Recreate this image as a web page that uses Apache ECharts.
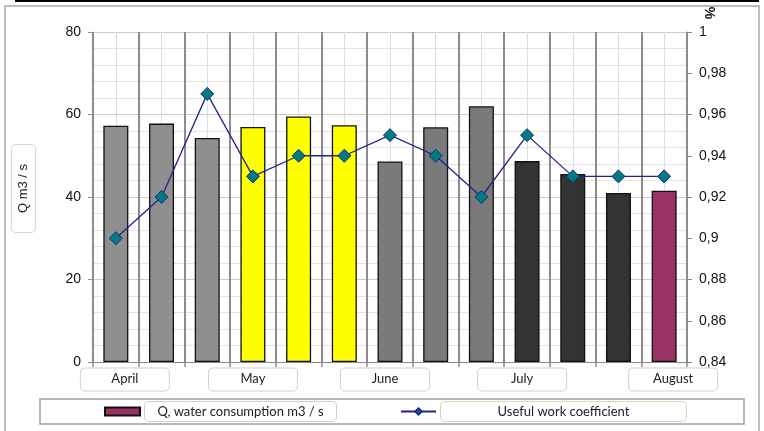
<!DOCTYPE html>
<html>
<head>
<meta charset="utf-8">
<script src="https://cdn.jsdelivr.net/npm/echarts@6/dist/echarts.min.js"></script>
<style>
html,body{margin:0;padding:0;background:#fff;}
#chart{width:764px;height:431px;}
</style>
</head>
<body>
<div id="chart"></div>
<script>
// ---- data ----
var categories = ['Apr-1','Apr-2','Apr-3','May-1','May-2','May-3','Jun-1','Jun-2','Jun-3','Jul-1','Jul-2','Jul-3','Aug-1'];
var monthLabels = ['April','','','May','','','June','','','July','','','August'];
var waterConsumption = [57.3, 57.8, 54.3, 57.0, 59.5, 57.4, 48.6, 56.9, 62.0, 48.7, 45.6, 41.0, 41.5];
var workCoefficient = [0.90, 0.92, 0.97, 0.93, 0.94, 0.94, 0.95, 0.94, 0.92, 0.95, 0.93, 0.93, 0.93];
var seriesNames = ['Q, water consumption m3 / s', 'Useful work coefficient'];
var leftAxisName = 'Q m3 / s';
var rightAxisName = '%';

// ---- styles ----
var barColors = ['#8f8f8f','#8f8f8f','#8f8f8f','#ffff00','#ffff00','#ffff00','#7a7a7a','#7a7a7a','#7a7a7a','#333333','#333333','#333333','#993366'];
var labelShift = [9,0,0,0,0,0,-5,0,0,-9,0,0,5];
var numFont = 'Liberation Sans';

var chart = echarts.init(document.getElementById('chart'));
var option = {
  animation: false,
  backgroundColor: '#ffffff',
  graphic: [
    {type:'rect', shape:{x:5,y:6,width:754,height:440}, style:{fill:'none', stroke:'#a6a6a6', lineWidth:1.5}, z:0},
    {type:'line', shape:{x1:15,y1:1,x2:759,y2:1}, style:{stroke:'#000', lineWidth:2}, z:1},
    {type:'text', x:709, y:13, rotation:-Math.PI/2, style:{text:rightAxisName, font:'bold 14px "Liberation Sans", Arial', fill:'#111', align:'center', verticalAlign:'middle'}}
  ],
  grid: {left:93, right:77, top:32, bottom:69, containLabel:false},
  legend: {
    left: 40, top: 399,
    padding: [2, 57, 2, 64],
    itemGap: 63,
    itemWidth: 35, itemHeight: 8,
    borderColor: '#a0a0a0', borderWidth: 1.5,
    data: [{name: seriesNames[0], icon: 'rect'}, {name: seriesNames[1]}],
    formatter: function(n){ return (n === seriesNames[0] ? '{a|' : '{b|') + n + '}'; },
    textStyle: {
      fontFamily: 'Lato', fontSize: 13, color: '#222',
      rich: {
        a: {fontFamily:'Lato', fontSize:13, color:'#222', width:183, align:'center', padding:[3,4], lineHeight:15,
            backgroundColor:'#fff', borderColor:'#cfcfcf', borderWidth:1, borderRadius:4},
        b: {fontFamily:'Lato', fontSize:13, color:'#222', width:237, align:'center', padding:[3,4], lineHeight:15,
            backgroundColor:'#fff', borderColor:'#c6e0b4', borderWidth:1, borderRadius:4}
      }
    }
  },
  xAxis: [
    {
      type: 'category', data: categories, boundaryGap: true,
      axisLine: {lineStyle:{color:'#8a8a8a', width:1}},
      axisTick: {show:true, length:5, lineStyle:{color:'#8a8a8a', width:1.5}},
      splitLine: {show:true, lineStyle:{color:'#8c8c8c', width:2}},
      axisLabel: {
        interval: 0, margin: 10,
        formatter: function(v, i){
          var t = monthLabels[i];
          if (!t) return '';
          var s = labelShift[i];
          if (s > 0) return '{s| }{m|' + t + '}';
          if (s < 0) return '{m|' + t + '}{t| }';
          return '{m|' + t + '}';
        },
        rich: {
          m: {fontFamily:'Lato', fontSize:13, color:'#222', width:80, align:'center', padding:[4,4,5,4], lineHeight:15,
              backgroundColor:'#fff', borderColor:'#d0d0d0', borderWidth:1, borderRadius:4},
          s: {width:18},
          t: {width:10}
        }
      },
      z: 2
    },
    {
      type: 'value', min: 0, max: 13, interval: 1, position: 'bottom',
      axisLine:{show:false}, axisTick:{show:false}, axisLabel:{show:false},
      splitLine:{show:false},
      minorTick:{show:false, splitNumber:2},
      minorSplitLine:{show:true, lineStyle:{color:'#cfe1f6', width:1}}
    }
  ],
  yAxis: [
    {
      type: 'value', min: 0, max: 80, interval: 20, position: 'left',
      name: '{s| }{n|' + leftAxisName + '}',
      nameLocation: 'middle', nameGap: 63, nameRotate: 90,
      nameTextStyle: {
        rich: {
          n: {fontFamily:numFont, fontSize:13, color:'#222', padding:[5,19], lineHeight:13,
              backgroundColor:'#fff', borderColor:'#d6d6d6', borderWidth:1, borderRadius:4},
          s: {width:17}
        }
      },
      axisLine: {show:true, lineStyle:{color:'#8a8a8a'}},
      axisTick: {show:true, length:5, lineStyle:{color:'#8a8a8a'}},
      axisLabel: {fontFamily:numFont, fontSize:14, color:'#111', margin:12},
      splitLine: {show:true, lineStyle:{color:'#cccccc', width:1}},
      minorTick: {show:false, splitNumber:5},
      minorSplitLine: {show:true, lineStyle:{color:'#e4e4e4', width:1}}
    },
    {
      type: 'value', min: 0.84, max: 1, interval: 0.02, position: 'right',
      axisLine: {show:true, lineStyle:{color:'#8a8a8a'}},
      axisTick: {show:true, length:5, lineStyle:{color:'#8a8a8a'}},
      axisLabel: {fontFamily:numFont, fontSize:14, color:'#111', margin:12,
        formatter: function(v){ return String(Number(v.toFixed(2))).replace('.', ','); }},
      splitLine: {show:false}
    }
  ],
  series: [
    {
      name: seriesNames[0], type: 'bar', xAxisIndex: 0, yAxisIndex: 0,
      barWidth: 25,
      itemStyle: {color:'#993366', borderColor:'#111', borderWidth:1.3},
      data: waterConsumption.map(function(v, i){ return {value:v, itemStyle:{color:barColors[i]}}; }),
      z: 3
    },
    {
      name: seriesNames[1], type: 'line', xAxisIndex: 0, yAxisIndex: 1,
      data: workCoefficient,
      symbol: 'diamond', symbolSize: 13,
      lineStyle: {color:'#23238c', width:1.3},
      itemStyle: {color:'#007b80', borderColor:'#1c2a80', borderWidth:1},
      z: 4
    }
  ]
};
chart.setOption(option);
</script>
</body>
</html>
